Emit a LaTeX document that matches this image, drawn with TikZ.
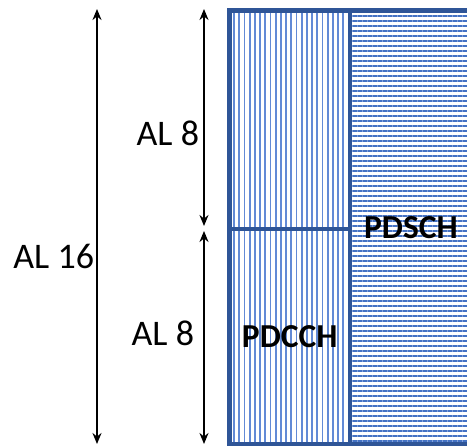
\documentclass[tikz,border=0pt]{standalone}
\usepackage{fontspec}
\setmainfont{Carlito}
\usepackage{tikz}
\usetikzlibrary{arrows.meta,patterns.meta}
\definecolor{framedarkblue}{RGB}{47, 85, 151}
\definecolor{stripeblue}{RGB}{68, 114, 196}
\definecolor{lightstripeblue}{RGB}{98, 138, 214}
\definecolor{textblack}{RGB}{0, 0, 0}

\begin{document}
\begin{tikzpicture}[
        x=1pt, y=-1pt,
        cell/.style={rectangle, draw=framedarkblue, line width=4.5pt, inner sep=0pt, outer sep=0pt, text=textblack},
        vstripes/.style={pattern={Lines[angle=90, distance=5.2pt, line width=1.8pt]}, pattern color=lightstripeblue},
        hstripes/.style={pattern={Lines[angle=0, distance=5pt, line width=2.2pt]}, pattern color=stripeblue},
        span/.style={{Stealth[length=11pt, width=9pt]}-{Stealth[length=11pt, width=9pt]}, line width=2pt, color=textblack},
        allabel/.style={font=\fontsize{36}{40}\selectfont, text=textblack, inner sep=0pt},
        chlabel/.style={font=\fontsize{33.5}{36}\selectfont\bfseries}
    ]
    \useasboundingbox (0,0) rectangle (467,446);
    \clip (0,0) rectangle (467,446);

    % Resource cells
    \node[cell, vstripes, minimum width=120.5pt, minimum height=218.5pt] (upper) at (289.75, 119.75) {};
    \node[cell, vstripes, minimum width=120.5pt, minimum height=215pt, chlabel] (lower) at (289.75, 336.5) {\raisebox{-13pt}{PDCCH}};
    \node[cell, hstripes, minimum width=122pt, minimum height=433.5pt, chlabel] (shared) at (411, 227.25) {\raisebox{-10pt}{PDSCH}};

    % Span end points
    \coordinate (al16top) at (97, 9);
    \coordinate (al16bot) at (97, 444);
    \coordinate (al8top) at (204, 9);
    \coordinate (al8mid) at (204, 226);
    \coordinate (al8low) at (204, 231);
    \coordinate (al8bot) at (204, 444);

    % Aggregation level spans
    \draw[span] (al16top) -- node[allabel, left, pos=0.57, xshift=-2pt] (l16) {AL 16} (al16bot);
    \draw[span] (al8top) -- node[allabel, left, pos=0.571, xshift=-4pt] (l8a) {AL 8} (al8mid);
    \draw[span] (al8low) -- node[allabel, left, pos=0.479, xshift=-9pt] (l8b) {AL 8} (al8bot);

\end{tikzpicture}
\end{document}
